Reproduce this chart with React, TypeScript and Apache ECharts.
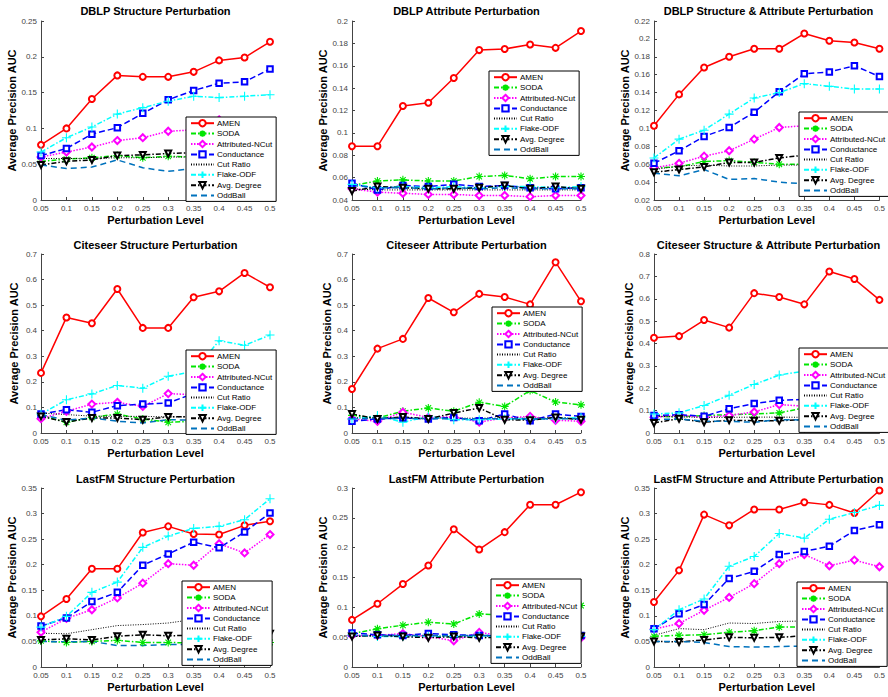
import React, { useEffect, useRef } from 'react';
import * as echarts from 'echarts';

const xLabels = ['0.05', '0.1', '0.15', '0.2', '0.25', '0.3', '0.35', '0.4', '0.45', '0.5'];
const methodNames = ['AMEN', 'SODA', 'Attributed-NCut', 'Conductance', 'Cut Ratio', 'Flake-ODF', 'Avg. Degree', 'OddBall'];

const panelTitles = [
  'DBLP Structure Perturbation',
  'DBLP Attribute Perturbation',
  'DBLP Structure & Attribute Perturbation',
  'Citeseer Structure Perturbation',
  'Citeseer Attribute Perturbation',
  'Citeseer Structure & Attribute Perturbation',
  'LastFM Structure Perturbation',
  'LastFM Attribute Perturbation',
  'LastFM Structure and Attribute Perturbation',
];
const yMins = [0, 0.04, 0.02, 0, 0, 0, 0, 0, 0];
const yMaxs = [0.25, 0.2, 0.22, 0.7, 0.7, 0.8, 0.35, 0.3, 0.35];
const yIntervals = [0.05, 0.02, 0.02, 0.1, 0.1, 0.1, 0.05, 0.05, 0.05];

// rows: AMEN, SODA, Attributed-NCut, Conductance, Cut Ratio, Flake-ODF, Avg. Degree, OddBall
const dblpStructure = [
  [0.077, 0.100, 0.141, 0.174, 0.172, 0.172, 0.179, 0.195, 0.199, 0.221],
  [0.054, 0.057, 0.059, 0.062, 0.059, 0.061, 0.060, 0.062, 0.061, 0.060],
  [0.060, 0.067, 0.074, 0.083, 0.087, 0.096, 0.098, 0.112, 0.100, 0.090],
  [0.062, 0.072, 0.092, 0.101, 0.121, 0.140, 0.153, 0.163, 0.165, 0.183],
  [0.058, 0.058, 0.058, 0.059, 0.059, 0.060, 0.060, 0.060, 0.060, 0.060],
  [0.067, 0.087, 0.102, 0.120, 0.129, 0.138, 0.145, 0.143, 0.145, 0.147],
  [0.049, 0.054, 0.056, 0.062, 0.063, 0.065, 0.066, 0.067, 0.068, 0.068],
  [0.049, 0.044, 0.046, 0.056, 0.045, 0.040, 0.044, 0.045, 0.045, 0.046],
];
const dblpAttribute = [
  [0.088, 0.088, 0.124, 0.127, 0.149, 0.174, 0.175, 0.179, 0.176, 0.191],
  [0.053, 0.057, 0.058, 0.057, 0.057, 0.061, 0.062, 0.059, 0.061, 0.061],
  [0.050, 0.047, 0.046, 0.045, 0.045, 0.044, 0.044, 0.043, 0.044, 0.044],
  [0.055, 0.049, 0.053, 0.052, 0.054, 0.052, 0.053, 0.051, 0.050, 0.051],
  [0.050, 0.049, 0.049, 0.049, 0.049, 0.049, 0.049, 0.049, 0.049, 0.049],
  [0.054, 0.051, 0.052, 0.051, 0.052, 0.051, 0.052, 0.052, 0.051, 0.052],
  [0.048, 0.052, 0.051, 0.050, 0.050, 0.051, 0.053, 0.050, 0.052, 0.050],
  [0.053, 0.051, 0.051, 0.050, 0.051, 0.050, 0.051, 0.050, 0.050, 0.050],
];
const dblpBoth = [
  [0.103, 0.138, 0.168, 0.180, 0.189, 0.189, 0.206, 0.198, 0.196, 0.189],
  [0.056, 0.057, 0.063, 0.064, 0.062, 0.060, 0.060, 0.061, 0.060, 0.060],
  [0.056, 0.061, 0.069, 0.075, 0.088, 0.101, 0.103, 0.104, 0.102, 0.100],
  [0.061, 0.075, 0.091, 0.101, 0.118, 0.141, 0.161, 0.163, 0.170, 0.158],
  [0.054, 0.058, 0.059, 0.058, 0.058, 0.059, 0.059, 0.059, 0.059, 0.059],
  [0.067, 0.088, 0.098, 0.116, 0.134, 0.140, 0.150, 0.147, 0.144, 0.144],
  [0.051, 0.054, 0.057, 0.062, 0.062, 0.067, 0.070, 0.071, 0.072, 0.072],
  [0.050, 0.047, 0.054, 0.043, 0.044, 0.040, 0.038, 0.038, 0.037, 0.037],
];
const citeseerStructure = [
  [0.235, 0.452, 0.429, 0.563, 0.411, 0.411, 0.531, 0.554, 0.626, 0.570],
  [0.069, 0.042, 0.061, 0.074, 0.055, 0.042, 0.046, 0.050, 0.050, 0.050],
  [0.056, 0.085, 0.113, 0.120, 0.104, 0.154, 0.150, 0.160, 0.170, 0.170],
  [0.074, 0.091, 0.081, 0.107, 0.113, 0.117, 0.155, 0.180, 0.190, 0.200],
  [0.078, 0.072, 0.066, 0.065, 0.065, 0.063, 0.063, 0.063, 0.063, 0.063],
  [0.074, 0.130, 0.153, 0.186, 0.175, 0.222, 0.241, 0.361, 0.343, 0.383],
  [0.065, 0.043, 0.059, 0.059, 0.052, 0.063, 0.064, 0.065, 0.066, 0.066],
  [0.072, 0.050, 0.059, 0.046, 0.039, 0.052, 0.050, 0.050, 0.050, 0.050],
];
const citeseerAttribute = [
  [0.172, 0.330, 0.368, 0.528, 0.472, 0.544, 0.532, 0.503, 0.668, 0.515],
  [0.069, 0.059, 0.085, 0.098, 0.085, 0.120, 0.104, 0.166, 0.121, 0.110],
  [0.055, 0.046, 0.081, 0.061, 0.063, 0.043, 0.059, 0.065, 0.050, 0.046],
  [0.046, 0.055, 0.059, 0.055, 0.061, 0.048, 0.074, 0.048, 0.074, 0.065],
  [0.060, 0.058, 0.058, 0.058, 0.058, 0.058, 0.058, 0.058, 0.058, 0.058],
  [0.055, 0.068, 0.042, 0.065, 0.052, 0.052, 0.055, 0.055, 0.055, 0.061],
  [0.074, 0.055, 0.063, 0.055, 0.078, 0.098, 0.052, 0.050, 0.061, 0.052],
  [0.055, 0.057, 0.057, 0.056, 0.056, 0.056, 0.056, 0.056, 0.056, 0.056],
];
const citeseerBoth = [
  [0.426, 0.433, 0.505, 0.471, 0.625, 0.608, 0.575, 0.722, 0.688, 0.595],
  [0.075, 0.072, 0.078, 0.082, 0.085, 0.090, 0.112, 0.115, 0.115, 0.120],
  [0.070, 0.079, 0.070, 0.078, 0.094, 0.127, 0.120, 0.120, 0.120, 0.120],
  [0.078, 0.082, 0.075, 0.108, 0.132, 0.146, 0.150, 0.155, 0.160, 0.160],
  [0.075, 0.072, 0.070, 0.070, 0.071, 0.071, 0.070, 0.070, 0.070, 0.070],
  [0.085, 0.090, 0.123, 0.169, 0.217, 0.259, 0.277, 0.290, 0.300, 0.305],
  [0.045, 0.064, 0.048, 0.057, 0.055, 0.055, 0.060, 0.060, 0.060, 0.060],
  [0.060, 0.063, 0.052, 0.052, 0.048, 0.060, 0.058, 0.058, 0.058, 0.058],
];
const lastfmStructure = [
  [0.099, 0.133, 0.192, 0.192, 0.263, 0.275, 0.260, 0.259, 0.277, 0.285],
  [0.051, 0.048, 0.050, 0.052, 0.048, 0.048, 0.047, 0.047, 0.047, 0.048],
  [0.068, 0.095, 0.112, 0.135, 0.164, 0.202, 0.199, 0.241, 0.223, 0.259],
  [0.080, 0.096, 0.128, 0.146, 0.199, 0.221, 0.244, 0.233, 0.264, 0.301],
  [0.066, 0.065, 0.073, 0.081, 0.083, 0.086, 0.093, 0.095, 0.097, 0.100],
  [0.078, 0.099, 0.146, 0.166, 0.234, 0.256, 0.271, 0.275, 0.288, 0.329],
  [0.053, 0.055, 0.053, 0.060, 0.063, 0.061, 0.062, 0.062, 0.063, 0.065],
  [0.050, 0.049, 0.050, 0.042, 0.042, 0.044, 0.044, 0.044, 0.045, 0.045],
];
const lastfmAttribute = [
  [0.079, 0.106, 0.139, 0.170, 0.231, 0.197, 0.226, 0.272, 0.272, 0.293],
  [0.056, 0.064, 0.070, 0.075, 0.072, 0.089, 0.087, 0.090, 0.095, 0.103],
  [0.053, 0.053, 0.056, 0.051, 0.044, 0.058, 0.052, 0.052, 0.052, 0.049],
  [0.057, 0.054, 0.053, 0.056, 0.054, 0.053, 0.052, 0.052, 0.052, 0.053],
  [0.052, 0.052, 0.052, 0.052, 0.052, 0.052, 0.052, 0.052, 0.052, 0.052],
  [0.054, 0.051, 0.051, 0.051, 0.051, 0.051, 0.051, 0.051, 0.051, 0.051],
  [0.051, 0.053, 0.051, 0.049, 0.051, 0.049, 0.050, 0.051, 0.051, 0.051],
  [0.053, 0.053, 0.053, 0.053, 0.053, 0.053, 0.053, 0.053, 0.053, 0.053],
];
const lastfmBoth = [
  [0.127, 0.189, 0.298, 0.277, 0.308, 0.308, 0.322, 0.317, 0.301, 0.345],
  [0.060, 0.062, 0.063, 0.068, 0.071, 0.078, 0.078, 0.077, 0.076, 0.075],
  [0.074, 0.085, 0.111, 0.136, 0.163, 0.202, 0.220, 0.198, 0.209, 0.196],
  [0.075, 0.104, 0.122, 0.173, 0.187, 0.220, 0.226, 0.236, 0.267, 0.278],
  [0.062, 0.075, 0.073, 0.086, 0.085, 0.089, 0.090, 0.092, 0.093, 0.095],
  [0.073, 0.112, 0.133, 0.197, 0.216, 0.261, 0.252, 0.289, 0.302, 0.316],
  [0.050, 0.049, 0.053, 0.058, 0.057, 0.058, 0.061, 0.062, 0.064, 0.065],
  [0.050, 0.050, 0.048, 0.040, 0.039, 0.040, 0.041, 0.041, 0.042, 0.042],
];

const panelData = [
  dblpStructure, dblpAttribute, dblpBoth,
  citeseerStructure, citeseerAttribute, citeseerBoth,
  lastfmStructure, lastfmAttribute, lastfmBoth,
];

// layout (pixels)
const colLefts = [41, 352, 654];
const rowTops = [21, 254, 488];
const plotW = 229;
const plotH = 179;
const titleTops = [5, 239, 473];
const yNameGaps = [22, 20, 20];
const legendPos = [
  [186, 117], [489, 71], [799, 112],
  [186, 350], [492, 307], [799, 348],
  [182, 581], [491, 579], [797, 582],
];

const FONT = '"Liberation Sans", Arial, Helvetica, sans-serif';
const dashDot = [5, 2, 1.5, 2];
const seriesStyles: any[] = [
  { color: '#ff0000', type: 'solid', width: 1.5, symbol: 'emptyCircle', size: 6 },
  { color: '#00e600', type: dashDot, width: 1.5, symbol: 'path://M5,0L5,10M0,5L10,5M1.5,1.5L8.5,8.5M8.5,1.5L1.5,8.5', size: 8, stroke: true },
  { color: '#ff00ff', type: [1.5, 1.5], width: 1.5, symbol: 'emptyDiamond', size: 7 },
  { color: '#0000ff', type: [6, 3], width: 1.5, symbol: 'emptyRect', size: 5.5 },
  { color: '#000000', type: [1, 1.5], width: 1, symbol: 'none', size: 0 },
  { color: '#00ffff', type: dashDot, width: 1.5, symbol: 'path://M5,0L5,10M0,5L10,5', size: 9, stroke: true },
  { color: '#000000', type: dashDot, width: 1.5, symbol: 'emptyTriangle', size: 6, rotate: 180 },
  { color: '#0072bd', type: [6, 4], width: 1.5, symbol: 'none', size: 0 },
];

const legendItems = methodNames.map((name, j) =>
  seriesStyles[j].symbol === 'none' ? { name, itemStyle: { opacity: 0 } } : { name }
);

const fmt = (v: number) => String(Math.round(v * 1000) / 1000);

export default function App() {
  const ref = useRef<HTMLDivElement>(null);
  useEffect(() => {
    if (!ref.current) return;
    const chart = echarts.init(ref.current, undefined, { renderer: 'svg' });
    const grids: any[] = [];
    const xAxes: any[] = [];
    const yAxes: any[] = [];
    const titles: any[] = [];
    const legends: any[] = [];
    const series: any[] = [];
    for (let i = 0; i < 9; i++) {
      const c = i % 3;
      const r = Math.floor(i / 3);
      grids.push({ left: colLefts[c], top: rowTops[r], width: plotW, height: plotH, containLabel: false });
      xAxes.push({
        type: 'category', gridIndex: i, data: xLabels, boundaryGap: false,
        name: 'Perturbation Level', nameLocation: 'middle', nameGap: 14,
        nameTextStyle: { fontFamily: FONT, fontSize: 11, fontWeight: 'bold', color: '#000' },
        axisLine: { lineStyle: { color: '#444', width: 1 } },
        axisTick: { inside: true, length: 3, lineStyle: { color: '#444' } },
        axisLabel: { interval: 0, fontFamily: FONT, fontSize: 8, color: '#444', margin: 4 },
        splitLine: { show: false },
      });
      yAxes.push({
        type: 'value', gridIndex: i, min: yMins[i], max: yMaxs[i], interval: yIntervals[i],
        name: 'Average Precision AUC', nameLocation: 'middle', nameGap: yNameGaps[c],
        nameTextStyle: { fontFamily: FONT, fontSize: 11, fontWeight: 'bold', color: '#000' },
        axisLine: { show: true, lineStyle: { color: '#444', width: 1 } },
        axisTick: { show: true, inside: true, length: 3, lineStyle: { color: '#444' } },
        axisLabel: { fontFamily: FONT, fontSize: 8, color: '#444', margin: 4, formatter: fmt },
        splitLine: { show: false },
      });
      titles.push({
        text: panelTitles[i], left: colLefts[c] + plotW / 2, top: titleTops[r], textAlign: 'center',
        padding: 0,
        textStyle: { fontFamily: FONT, fontSize: 11, fontWeight: 'bold', color: '#000' },
      });
      legends.push({
        left: legendPos[i][0], top: legendPos[i][1], orient: 'vertical',
        itemWidth: 23, itemHeight: 8, itemGap: 2, padding: [2, 4, 2, 4],
        backgroundColor: '#fff', borderColor: '#000', borderWidth: 1, borderRadius: 0,
        selectedMode: false, data: legendItems,
        textStyle: { fontFamily: FONT, fontSize: 8, color: '#000', padding: [0, 0, 0, -2] },
      });
      methodNames.forEach((name, j) => {
        const st = seriesStyles[j];
        series.push({
          type: 'line', name, xAxisIndex: i, yAxisIndex: i, data: panelData[i][j],
          symbol: st.symbol, symbolSize: st.size, symbolRotate: st.rotate || 0,
          showSymbol: st.symbol !== 'none', clip: false,
          lineStyle: { color: st.color, width: st.width, type: st.type },
          itemStyle: st.stroke
            ? { color: 'rgba(255,255,255,0)', borderColor: st.color, borderWidth: 1.1 }
            : { color: st.color, borderWidth: 1.2 },
          emphasis: { disabled: true },
        });
      });
    }
    chart.setOption({
      animation: false,
      backgroundColor: '#fff',
      title: titles,
      legend: legends,
      grid: grids,
      xAxis: xAxes,
      yAxis: yAxes,
      series,
    });
    return () => chart.dispose();
  }, []);
  return <div ref={ref} style={{ position: 'absolute', left: 0, top: 0, width: 888, height: 697 }} />;
}
